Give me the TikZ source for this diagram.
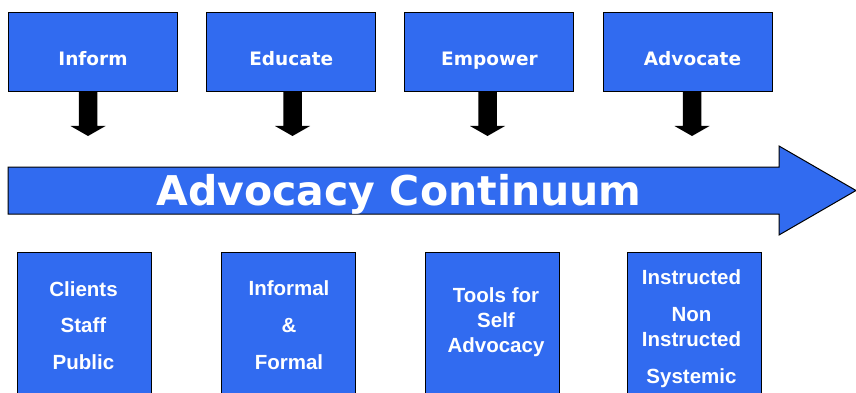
\documentclass[tikz,border=0pt]{standalone}
\usepackage{fontspec}
\setmainfont{DejaVu Sans}
\newfontfamily\arialfont{Liberation Sans}
\usetikzlibrary{calc}
\definecolor{boxblue}{RGB}{49,107,240}
\begin{document}
\begin{tikzpicture}[x=1pt,y=-1pt,
  topbox/.style={draw=black, line width=1pt, fill=boxblue, minimum width=169pt, minimum height=79pt, inner sep=0pt, outer sep=0pt},
  botbox/.style={draw=black, line width=1pt, fill=boxblue, minimum width=134pt, minimum height=160pt, inner sep=0pt, outer sep=0pt},
  toptxt/.style={text=white, font=\bfseries\fontsize{18.5}{22}\selectfont, anchor=base, inner sep=0pt},
  bigtxt/.style={text=white, font=\bfseries\fontsize{41}{49}\selectfont, anchor=base, inner sep=0pt},
  bottxt/.style={text=white, font=\arialfont\bfseries\fontsize{20.5}{25}\selectfont, align=center, anchor=base, inner sep=0pt},
  downarr/.pic={\fill[black] (-9.25,0) -- (9.25,0) -- (9.25,34) -- (17.5,34) -- (0,44) -- (-17.5,34) -- (-9.25,34) -- cycle;}
]
\useasboundingbox (0,0) rectangle (856,393);
\clip (0,0) rectangle (856,393);

% top boxes
\node[topbox] (inform)   at (92.5,52.5) {};
\node[topbox] (educate)  at (290.75,52.5) {};
\node[topbox] (empower)  at (489,52.5) {};
\node[topbox] (advocate) at (687.5,52.5) {};
\node[toptxt] (inform-t)   at ($(inform.center)+(0.5,13)$) {Inform};
\node[toptxt] (educate-t)  at ($(educate.center)+(0.5,13)$) {Educate};
\node[toptxt] (empower-t)  at ($(empower.center)+(0.5,13)$) {Empower};
\node[toptxt] (advocate-t) at ($(advocate.center)+(5,13)$) {Advocate};

% down arrows
\pic at ($(inform.south)+(-4.5,0)$) {downarr};
\pic at ($(educate.south)+(1.75,0)$) {downarr};
\pic at ($(empower.south)+(-1.5,0)$) {downarr};
\pic at ($(advocate.south)+(4.5,0)$) {downarr};

% big arrow
\coordinate (bigstart) at (8,190.5);
\coordinate (bigtip) at (856,190.5);
\filldraw[fill=boxblue, draw=black, line width=1pt, line join=miter]
  ($(bigstart)+(0,-23.5)$) -- (779,167) -- (779,146) -- (bigtip) -- (779,235) -- (779,214) -- ($(bigstart)+(0,23.5)$) -- cycle;
\node[bigtxt] (continuum) at (399,205) {Advocacy Continuum};

% bottom boxes
\node[botbox] (who)    at (84,332) {};
\node[botbox] (how)    at (288.5,332) {};
\node[botbox] (tools)  at (492,332) {};
\node[botbox] (kinds)  at (694,332) {};
\node[bottxt] (who-t)   at (83.5,369) {Clients\\[11.5pt]Staff\\[11.5pt]Public};
\node[bottxt] (how-t)   at (289,369) {Informal\\[12pt]\&\\[12pt]Formal};
\node[bottxt] (tools-t) at (496,352) {Tools for\\Self\\Advocacy};
\node[bottxt] (kinds-t) at (691.5,383) {Instructed\\[12pt]Non\\Instructed\\[12pt]Systemic};
\end{tikzpicture}
\end{document}
